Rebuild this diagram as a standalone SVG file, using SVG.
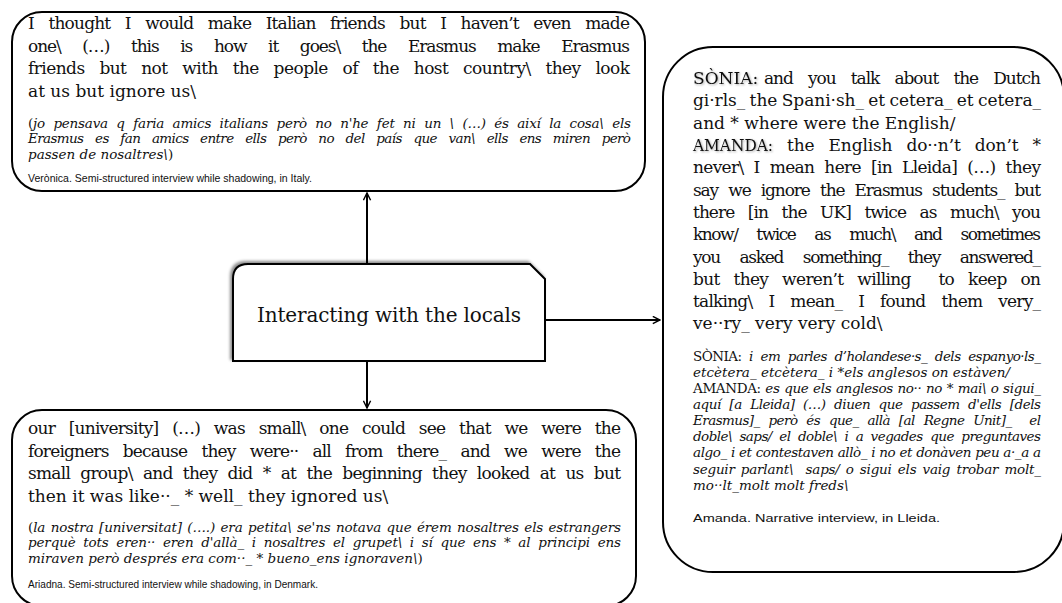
<svg xmlns="http://www.w3.org/2000/svg" width="1062" height="603" viewBox="0 0 1062 603">
  <style>
    .box { fill: #fff; stroke: #000; stroke-width: 2; }
    .t { font-family: "DejaVu Serif", "Liberation Serif", serif; font-size: 17px; fill: #111; }
    .it { font-family: "DejaVu Serif", "Liberation Serif", serif; font-size: 13.5px; font-style: italic; fill: #111; }
    .up { font-style: normal; }
    .src { font-family: "Liberation Sans", Arial, sans-serif; font-size: 11.5px; fill: #111; }
    .ctr { font-family: "DejaVu Serif", "Liberation Serif", serif; font-size: 20px; fill: #111; }
    .conn { stroke: #000; stroke-width: 2; fill: none; }
    .pre { white-space: pre; }
  </style>
  <defs>
    <marker id="arrow" viewBox="0 0 10 10" refX="9" refY="5" markerWidth="9" markerHeight="9" markerUnits="userSpaceOnUse" orient="auto">
      <path d="M1,1 L9,5 L1,9" fill="none" stroke="#000" stroke-width="1.6"/>
    </marker>
    <filter id="boxShadow" x="-10%" y="-10%" width="120%" height="120%">
      <feDropShadow dx="-2" dy="-2" stdDeviation="1.8" flood-color="#000" flood-opacity="0.45"/>
    </filter>
    <filter id="nameShadow" x="-10%" y="-30%" width="120%" height="160%">
      <feDropShadow dx="1" dy="1" stdDeviation="1" flood-color="#000" flood-opacity="0.35"/>
    </filter>
  </defs>

  <!-- connectors -->
  <g id="connectors">
    <path class="conn" d="M367,263 V193" marker-end="url(#arrow)"/>
    <path class="conn" d="M367,362 V408" marker-end="url(#arrow)"/>
    <path class="conn" d="M546,320 H660" marker-end="url(#arrow)"/>
  </g>

  <!-- central theme -->
  <g id="theme">
    <path class="box" filter="url(#boxShadow)" d="M233,361 V279 Q233,264 248,264 H530 L545,279 V361 Z"/>
    <text class="ctr" x="257" y="322" textLength="264" lengthAdjust="spacing">Interacting with the locals</text>
  </g>

  <!-- Verònica quote (justified lines use word-spacing, textLength trims the rest) -->
  <g id="quote-veronica">
    <rect class="box" x="12" y="12" width="633" height="179" rx="30" ry="30"/>
    <text class="t" x="28" y="29" word-spacing="9.9" textLength="602" lengthAdjust="spacing">I thought I would make Italian friends but I haven’t even made</text>
    <text class="t" x="28" y="52" word-spacing="17.3" textLength="602" lengthAdjust="spacing">one\ (…) this is how it goes\ the Erasmus make Erasmus</text>
    <text class="t" x="28" y="74" word-spacing="9.9" textLength="602" lengthAdjust="spacing">friends but not with the people of the host country\ they look</text>
    <text class="t" x="28" y="97">at us but ignore us\</text>
    <text class="it" x="28" y="128" word-spacing="4.4" textLength="603" lengthAdjust="spacing"><tspan class="up">(</tspan>jo pensava q faria amics italians però no n'he fet ni un \ (…) és així la cosa\ els</text>
    <text class="it" x="28" y="143" word-spacing="8" textLength="603" lengthAdjust="spacing">Erasmus es fan amics entre ells però no del país que van\ ells ens miren però</text>
    <text class="it" x="28" y="159">passen de nosaltres\<tspan class="up">)</tspan></text>
    <text class="src" x="28" y="182" textLength="284" lengthAdjust="spacingAndGlyphs">Verònica. Semi-structured interview while shadowing, in Italy.</text>
  </g>

  <!-- Ariadna quote -->
  <g id="quote-ariadna">
    <rect class="box" x="12" y="410" width="624" height="196" rx="30" ry="30"/>
    <text class="t" x="28" y="434" word-spacing="9.1" textLength="593" lengthAdjust="spacing">our [university] (…) was small\ one could see that we were the</text>
    <text class="t" x="28" y="457" word-spacing="9.6" textLength="593" lengthAdjust="spacing">foreigners because they were·· all from there_ and we were the</text>
    <text class="t" x="28" y="479" word-spacing="5.6" textLength="593" lengthAdjust="spacing">small group\ and they did * at the beginning they looked at us but</text>
    <text class="t" x="28" y="502">then it was like··_ * well_ they ignored us\</text>
    <text class="it" x="28" y="532" word-spacing="1.2" textLength="593" lengthAdjust="spacing"><tspan class="up">(</tspan>la nostra [universitat] (….) era petita\ se'ns notava que érem nosaltres els estrangers</text>
    <text class="it" x="28" y="547" word-spacing="3.6" textLength="593" lengthAdjust="spacing">perquè tots eren·· eren d'allà_ i nosaltres el grupet\ i sí que ens * al principi ens</text>
    <text class="it" x="28" y="563">miraven però després era com··_ * bueno_ens ignoraven\<tspan class="up">)</tspan></text>
    <text class="src" x="28" y="588" textLength="290" lengthAdjust="spacingAndGlyphs">Ariadna. Semi-structured interview while shadowing, in Denmark.</text>
  </g>

  <!-- Sònia and Amanda exchange -->
  <g id="quote-amanda">
    <rect class="box" x="663" y="47" width="401" height="525" rx="50" ry="50"/>
    <text class="t" x="693" y="84" filter="url(#nameShadow)">SÒNIA:</text>
    <text class="t" x="764" y="84" word-spacing="10.7" textLength="277" lengthAdjust="spacing">and you talk about the Dutch</text>
    <text class="t" x="693" y="106" word-spacing="-1" textLength="348" lengthAdjust="spacing">gi·rls_ the Spani·sh_ et cetera_ et cetera_</text>
    <text class="t" x="693" y="129">and * where were the English/</text>
    <text class="t" x="693" y="151" filter="url(#nameShadow)" textLength="80" lengthAdjust="spacingAndGlyphs">AMANDA:</text>
    <text class="t" x="787" y="151" word-spacing="8.9" textLength="254" lengthAdjust="spacing">the English do··n’t don’t *</text>
    <text class="t" x="693" y="173" word-spacing="5.4" textLength="348" lengthAdjust="spacing">never\ I mean here [in Lleida] (…) they</text>
    <text class="t" x="693" y="196" word-spacing="5.9" textLength="348" lengthAdjust="spacing">say we ignore the Erasmus students_ but</text>
    <text class="t" x="693" y="218" word-spacing="9.1" textLength="348" lengthAdjust="spacing">there [in the UK] twice as much\ you</text>
    <text class="t" x="693" y="240" word-spacing="15" textLength="348" lengthAdjust="spacing">know/ twice as much\ and sometimes</text>
    <text class="t" x="693" y="263" word-spacing="15.7" textLength="348" lengthAdjust="spacing">you asked something_ they answered_</text>
    <text class="t pre" x="693" y="285" word-spacing="9.1" textLength="348" lengthAdjust="spacing">but they weren’t willing  to keep on</text>
    <text class="t" x="693" y="307" word-spacing="11.4" textLength="348" lengthAdjust="spacing">talking\ I mean_ I found them very_</text>
    <text class="t" x="693" y="329">ve··ry_ very very cold\</text>
    <text class="it" x="693" y="361" word-spacing="3.9" textLength="348" lengthAdjust="spacing"><tspan class="up">SÒNIA: </tspan>i em parles d’holandese·s_ dels espanyo·ls_</text>
    <text class="it" x="693" y="377">etcètera_ etcètera_ i *els anglesos on estàven/</text>
    <text class="it" x="693" y="393" word-spacing="0.7" textLength="348" lengthAdjust="spacing"><tspan class="up">AMANDA: </tspan>es que els anglesos no·· no * mai\ o sigui_</text>
    <text class="it" x="693" y="409" word-spacing="4.6" textLength="348" lengthAdjust="spacing">aquí [a Lleida] (…) diuen que passem d'ells [dels</text>
    <text class="it pre" x="693" y="425" word-spacing="5.1" textLength="348" lengthAdjust="spacing">Erasmus]_ però és que_ allà [al Regne Unit]_  el</text>
    <text class="it" x="693" y="441" word-spacing="3.7" textLength="348" lengthAdjust="spacing">doble\ saps/ el doble\ i a vegades que preguntaves</text>
    <text class="it" x="693" y="457" word-spacing="0.3" textLength="348" lengthAdjust="spacing">algo_ i et contestaven allò_ i no et donàven peu a·_a a</text>
    <text class="it pre" x="693" y="474" word-spacing="2.1" textLength="348" lengthAdjust="spacing">seguir parlant\  saps/ o sigui els vaig trobar molt_</text>
    <text class="it" x="693" y="490">mo··lt_molt molt freds\</text>
    <text class="src" x="693" y="522" textLength="247" lengthAdjust="spacingAndGlyphs">Amanda. Narrative interview, in Lleida.</text>
  </g>
</svg>
